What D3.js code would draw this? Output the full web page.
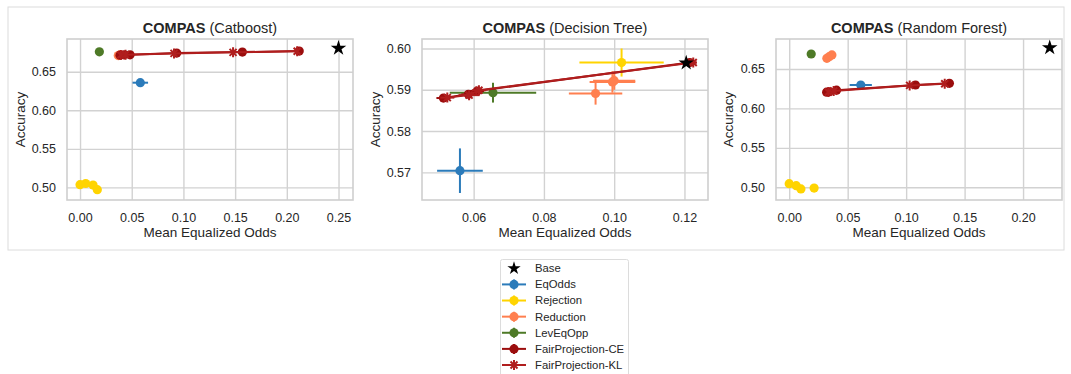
<!DOCTYPE html>
<html>
<head>
<meta charset="utf-8">
<script src="https://cdn.jsdelivr.net/npm/d3@7"></script>
<style>
  body { margin: 0; background: #fff; }
  text { font-family: "Liberation Sans", Arial, sans-serif; fill: #262626; }
</style>
</head>
<body>
<div id="wrapper"></div>
<script>
// panels (model names)
const models = ["Catboost", "Decision Tree", "Random Forest"]

// axis domains and ticks per panel
const xDomains = [[-0.0126, 0.264], [0.0453, 0.1267], [-0.0113, 0.2333]]
const yDomains = [[0.4836, 0.6925], [0.5633, 0.6023], [0.4839, 0.688]]
const xTicks = [[0, 0.05, 0.10, 0.15, 0.20, 0.25], [0.06, 0.08, 0.10, 0.12], [0, 0.05, 0.10, 0.15, 0.20]]
const yTicks = [[0.50, 0.55, 0.60, 0.65], [0.57, 0.58, 0.59, 0.60], [0.50, 0.55, 0.60, 0.65]]

// series: one list per panel, points are [x, y, xerr, yerr]
const base = [
  [[0.25, 0.6805]],
  [[0.1205, 0.5965]],
  [[0.2228, 0.677]]
]
const eqOdds = [
  [[0.0583, 0.6358, 0.0075, 0.001]],
  [[0.0561, 0.5704, 0.0065, 0.0054]],
  [[0.0612, 0.6297, 0.0095, 0.001]]
]
const rejection = [
  [[0.0, 0.5035], [0.0055, 0.505], [0.0126, 0.503], [0.0167, 0.497]],
  [[0.1021, 0.5966, 0.012, 0.0034]],
  [[0.0, 0.5046], [0.006, 0.502], [0.010, 0.4979], [0.0213, 0.499]]
]
const reduction = [
  [[0.037, 0.671], [0.0385, 0.6718]],
  [[0.0947, 0.5891, 0.0076, 0.0027], [0.0995, 0.5919, 0.0065, 0.0026], [0.1000, 0.5922, 0.006, 0.0022]],
  [[0.0322, 0.6635], [0.0342, 0.6656], [0.0365, 0.6678]]
]
const levEqOpp = [
  [[0.0187, 0.6758]],
  [[0.0655, 0.5893, 0.0123, 0.0024]],
  [[0.0188, 0.669]]
]
const fairCE = [
  [[0.0387, 0.6715], [0.0426, 0.672], [0.0484, 0.672], [0.0935, 0.6742], [0.157, 0.6755], [0.212, 0.6768]],
  [[0.0514, 0.588, 0.002], [0.0585, 0.5889, 0.002], [0.061, 0.5897, 0.002], [0.1215, 0.5966, 0.002]],
  [[0.032, 0.6206], [0.0342, 0.621], [0.0405, 0.6231], [0.108, 0.6297], [0.137, 0.6318]]
]
const fairKL = [
  [[0.0395, 0.6718], [0.044, 0.672], [0.0909, 0.6738], [0.148, 0.6752], [0.21, 0.6766]],
  [[0.0525, 0.5881, 0.002], [0.0587, 0.5887, 0.003], [0.0615, 0.5899, 0.002], [0.1225, 0.5966, 0.001]],
  [[0.0335, 0.6208], [0.038, 0.622], [0.103, 0.6292], [0.133, 0.6313]]
]

const seriesList = [
  { name: "EqOdds", data: eqOdds, color: "#2b7bba", marker: "circle" },
  { name: "Rejection", data: rejection, color: "#ffd400", marker: "circle" },
  { name: "Reduction", data: reduction, color: "#ff7f4f", marker: "circle" },
  { name: "LevEqOpp", data: levEqOpp, color: "#4e7a27", marker: "circle" },
  { name: "FairProjection-CE", data: fairCE, color: "#9b0d0d", marker: "circle", line: true },
  { name: "FairProjection-KL", data: fairKL, color: "#b01e1e", marker: "kl", line: true }
]

const W = 1071, H = 374
const plots = [
  { left: 67, right: 353, ylab: 20 },
  { left: 422, right: 708, ylab: 375 },
  { left: 776, right: 1062, ylab: 728 }
]
const plotTop = 39, plotBottom = 200

const svg = d3.select("#wrapper").append("svg")
  .attr("width", W)
  .attr("height", H)

// outer frame
svg.append("rect")
  .attr("x", 8).attr("y", 7)
  .attr("width", 1056).attr("height", 243)
  .attr("fill", "none")
  .attr("stroke", "#dcdcdc")
  .attr("stroke-width", 1)

const klPath = "M-3.5,-3.5L3.5,3.5M-3.5,3.5L3.5,-3.5M0,-5L0,5"

function drawMarker(g, m, x, y, color, starSize = 75) {
  if (m === "circle") {
    g.append("circle").attr("cx", x).attr("cy", y).attr("r", 4.6).attr("fill", color)
  } else if (m === "kl") {
    g.append("path").attr("d", klPath)
      .attr("transform", `translate(${x},${y})`)
      .attr("stroke", color).attr("stroke-width", 2).attr("fill", "none")
  } else if (m === "star") {
    g.append("path").attr("d", d3.symbol(d3.symbolStar, starSize)())
      .attr("transform", `translate(${x},${y})`)
      .attr("fill", "#000")
  }
}

plots.forEach((p, i) => {
  const xScale = d3.scaleLinear().domain(xDomains[i]).range([p.left, p.right])
  const yScale = d3.scaleLinear().domain(yDomains[i]).range([plotBottom, plotTop])
  const g = svg.append("g")

  // grid
  g.append("g")
    .attr("transform", `translate(0,${plotBottom})`)
    .call(d3.axisBottom(xScale).tickValues(xTicks[i]).tickSize(-(plotBottom - plotTop)).tickFormat(d3.format(".2f")).tickPadding(13))
    .call(a => a.select(".domain").remove())
    .call(a => a.selectAll("line").attr("stroke", "#d2d2d2").attr("stroke-width", 1.4))
    .call(a => a.selectAll("text").attr("font-size", 12.5).attr("fill", "#262626")
      .style("font-family", "'Liberation Sans', Arial, sans-serif"))

  g.append("g")
    .attr("transform", `translate(${p.left},0)`)
    .call(d3.axisLeft(yScale).tickValues(yTicks[i]).tickSize(-(p.right - p.left)).tickFormat(d3.format(".2f")).tickPadding(11))
    .call(a => a.select(".domain").remove())
    .call(a => a.selectAll("line").attr("stroke", "#d2d2d2").attr("stroke-width", 1.4))
    .call(a => a.selectAll("text").attr("font-size", 12.5).attr("fill", "#262626")
      .style("font-family", "'Liberation Sans', Arial, sans-serif"))

  g.append("rect")
    .attr("x", p.left).attr("y", plotTop)
    .attr("width", p.right - p.left).attr("height", plotBottom - plotTop)
    .attr("fill", "none").attr("stroke", "#cfcfcf").attr("stroke-width", 1.6)

  // title
  const title = g.append("text")
    .attr("x", (p.left + p.right) / 2).attr("y", 33)
    .attr("text-anchor", "middle").attr("font-size", 14.5)
  title.append("tspan").attr("font-weight", "bold").text("COMPAS")
  title.append("tspan").text(` (${models[i]})`)

  g.append("text")
    .attr("x", (p.left + p.right) / 2).attr("y", 237)
    .attr("text-anchor", "middle").attr("font-size", 13.5)
    .text("Mean Equalized Odds")

  g.append("text")
    .attr("transform", `translate(${p.ylab},${(plotTop + plotBottom) / 2}) rotate(-90)`)
    .attr("text-anchor", "middle").attr("dy", "0.35em").attr("font-size", 13.5)
    .text("Accuracy")

  // series
  seriesList.forEach(s => {
    const pts = s.data[i]
    const sg = g.append("g")
    if (s.line) {
      sg.append("path")
        .attr("d", d3.line().x(d => xScale(d[0])).y(d => yScale(d[1]))(pts))
        .attr("fill", "none").attr("stroke", s.color).attr("stroke-width", 2)
    }
    pts.forEach(d => {
      const cx = xScale(d[0]), cy = yScale(d[1])
      if (d[2]) {
        sg.append("line")
          .attr("x1", xScale(d[0] - d[2])).attr("x2", xScale(d[0] + d[2]))
          .attr("y1", cy).attr("y2", cy)
          .attr("stroke", s.color).attr("stroke-width", 2)
      }
      if (d[3]) {
        sg.append("line")
          .attr("x1", cx).attr("x2", cx)
          .attr("y1", yScale(d[1] - d[3])).attr("y2", yScale(d[1] + d[3]))
          .attr("stroke", s.color).attr("stroke-width", 2)
      }
      drawMarker(sg, s.marker, cx, cy, s.color)
    })
  })

  base[i].forEach(d => drawMarker(g, "star", xScale(d[0]), yScale(d[1]), "#000", 75))
})

// legend
const legend = svg.append("g")
legend.append("rect")
  .attr("x", 500.5).attr("y", 259.5)
  .attr("width", 128).attr("height", 130)
  .attr("rx", 2)
  .attr("fill", "#fff").attr("stroke", "#dcdcdc")

const legendItems = [{ name: "Base", marker: "star", color: "#000" }].concat(seriesList)
const legendY = d3.scaleLinear().domain([0, 6]).range([268.3, 365])

legendItems.forEach((s, k) => {
  const y = legendY(k)
  if (s.marker !== "star") {
    legend.append("line")
      .attr("x1", 502).attr("x2", 526).attr("y1", y).attr("y2", y)
      .attr("stroke", s.color).attr("stroke-width", 2)
    legend.append("line")
      .attr("x1", 514).attr("x2", 514).attr("y1", y - 5).attr("y2", y + 5)
      .attr("stroke", s.color).attr("stroke-width", 2)
  }
  drawMarker(legend, s.marker, 514, y, s.color, 55)
  legend.append("text")
    .attr("x", 535).attr("y", y).attr("dy", "0.35em")
    .attr("font-size", 11.3)
    .text(s.name)
})
</script>
</body>
</html>
